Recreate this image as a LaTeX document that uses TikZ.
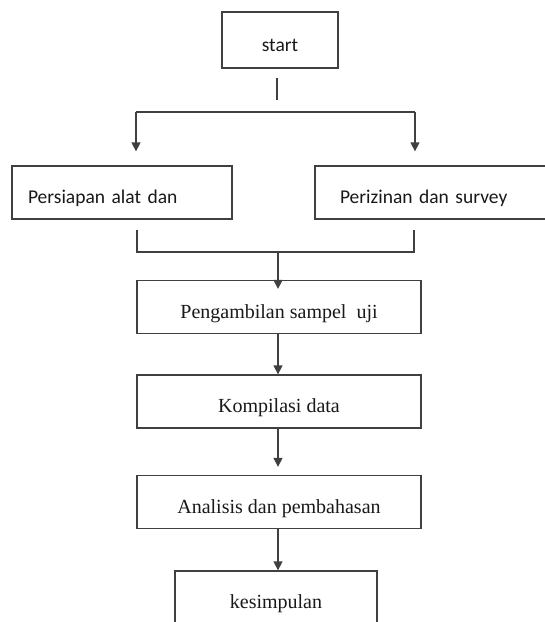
\documentclass[tikz,border=0pt]{standalone}
\usepackage{fontspec}
\setmainfont{Liberation Serif}
\newfontfamily\calibri{Carlito}
\usetikzlibrary{arrows.meta}

\begin{document}
\begin{tikzpicture}[x=1pt,y=-1pt,
  box/.style={draw=black!75,line width=1.3pt,rectangle,minimum height=53pt,
    text height=26pt,text depth=4pt,inner ysep=0pt,text=black!90},
  sansbox/.style={box,font=\calibri\fontsize{19.5}{23}\selectfont},
  serifbox/.style={box,minimum width=284pt,font=\fontsize{20}{24}\selectfont},
  line/.style={draw=black!75,line width=1.3pt},
  arr/.style={-{Triangle[length=9pt,width=9pt]}}]
\useasboundingbox (0,0) rectangle (545,622);
\fill[white] (0,0) rectangle (545,622);
\clip (0,0) rectangle (545,622);
\node[sansbox,minimum width=116pt,minimum height=56pt] (start) at (280,40) {start};
\node[sansbox,text width=188pt,inner xsep=16pt,align=left] (alat) at (122,192.5) {Persiapan alat dan};
\node[sansbox,text width=183pt,inner xsep=25pt,align=left] (izin) at (431.5,192.5) {Perizinan dan survey};
\node[serifbox] (sampel) at (279,307) {Pengambilan sampel\ \ uji};
\node[serifbox] (kompilasi) at (279,401.5) {Kompilasi data};
\node[serifbox] (analisis) at (279,502) {Analisis dan pembahasan};
\node[serifbox,minimum width=202pt] (simpul) at (276,597.5) {kesimpulan};
\coordinate (s1) at (277,78);
\coordinate (s2) at (277,100);
\coordinate (fl) at (136,112);
\coordinate (fr) at (415,112);
\coordinate (bl) at (137,230);
\coordinate (br) at (414,230);
\coordinate (jl) at (137,252);
\coordinate (jr) at (414,252);
\coordinate (jm) at (278,252);
\draw[line] (s1) -- (s2);
\draw[line] (fl) -- (fr);
\draw[line,arr] (fl) -- ([yshift=14pt]fl |- alat.north);
\draw[line,arr] (fr) -- ([yshift=14pt]fr |- izin.north);
\draw[line] (bl) -- (jl) -- (jr) -- (br);
\draw[line,arr] (jm) -- ([yshift=-9pt]jm |- sampel.north);
\draw[line,arr] (sampel.south -| jm) -- (kompilasi.north -| jm);
\draw[line,arr,shorten >=8pt] (kompilasi.south -| jm) -- (analisis.north -| jm);
\draw[line,arr] (analisis.south -| jm) -- (simpul.north -| jm);
\end{tikzpicture}
\end{document}
